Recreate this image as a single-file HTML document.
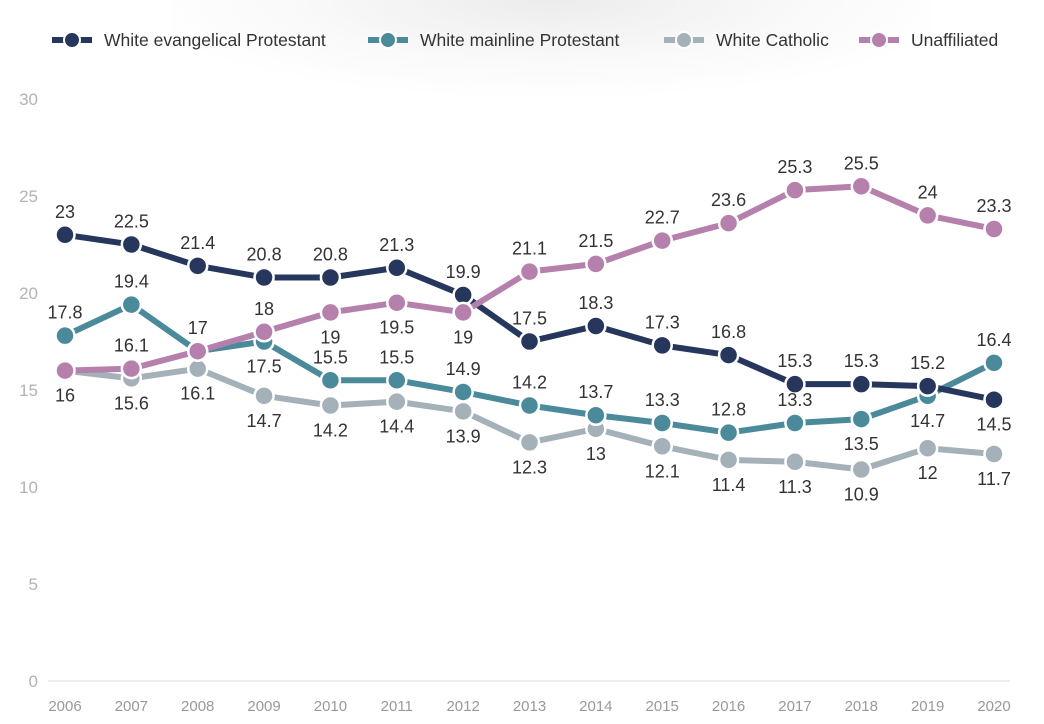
<!DOCTYPE html>
<html><head><meta charset="utf-8"><style>
html,body{margin:0;padding:0;background:#fff;}
svg{display:block;font-family:"Liberation Sans",sans-serif;}
</style></head><body>
<svg id="chart" width="1044" height="724">
<defs><radialGradient id="sh" cx="0.5" cy="0" r="0.55"><stop offset="0" stop-color="#ececec"/><stop offset="0.6" stop-color="#f9f9f9"/><stop offset="1" stop-color="#fff"/></radialGradient></defs>
<rect x="170" y="0" width="760" height="180" fill="url(#sh)"/>
<g id="legend"></g><g id="axes"></g><g id="series"></g><g id="labels"></g>
</svg>
<script>
const years=[2006,2007,2008,2009,2010,2011,2012,2013,2014,2015,2016,2017,2018,2019,2020];
const evangelical=[23,22.5,21.4,20.8,20.8,21.3,19.9,17.5,18.3,17.3,16.8,15.3,15.3,15.2,14.5];
const mainline=[17.8,19.4,17,17.5,15.5,15.5,14.9,14.2,13.7,13.3,12.8,13.3,13.5,14.7,16.4];
const catholic=[16,15.6,16.1,14.7,14.2,14.4,13.9,12.3,13,12.1,11.4,11.3,10.9,12,11.7];
const unaffiliated=[16,16.1,17,18,19,19.5,19,21.1,21.5,22.7,23.6,25.3,25.5,24,23.3];
const yTicks=[0,5,10,15,20,25,30];
const seriesNames=["White evangelical Protestant","White mainline Protestant","White Catholic","Unaffiliated"];
const evPos=[1,1,1,1,1,1,1,1,1,1,1,1,1,1,-1];
const mlPos=[1,1,1,-1,1,1,1,1,1,1,1,1,-1,-1,1];
const caPos=[-1,-1,-1,-1,-1,-1,-1,-1,-1,-1,-1,-1,-1,-1,-1];
const unPos=[0,1,0,1,-1,-1,-1,1,1,1,1,1,1,1,1];
const colors=["#26365c","#4b8a9b","#a4b1b8","#b680ad"];
const NS="http://www.w3.org/2000/svg";
const x=i=>65+i*(994-65)/14;
const y=v=>681-v*(681-99)/30;
function mk(tag,attrs,parent){const e=document.createElementNS(NS,tag);for(const k in attrs)e.setAttribute(k,attrs[k]);parent.appendChild(e);return e;}
const axes=document.getElementById('axes');
yTicks.forEach(t=>{const el=mk('text',{x:38,y:y(t)+6,'text-anchor':'end','font-size':17,fill:'#b3b3b3'},axes);el.textContent=t;

});
const base=mk('line',{x1:48,x2:1010,y1:681,y2:681,stroke:'#ddd','stroke-width':1},axes);


years.forEach((yr,i)=>{const el=mk('text',{x:x(i),y:711,'text-anchor':'middle','font-size':15,fill:'#999'},axes);el.textContent=yr;

});
const leg=document.getElementById('legend');
const legX=[52,368,664,859];
seriesNames.forEach((n,i)=>{const g=mk('g',{},leg);


mk('line',{x1:legX[i],x2:legX[i]+12,y1:40,y2:40,stroke:colors[i],'stroke-width':6},g);
mk('line',{x1:legX[i]+28,x2:legX[i]+40,y1:40,y2:40,stroke:colors[i],'stroke-width':6},g);
mk('circle',{cx:legX[i]+20,cy:40,r:8,fill:colors[i],stroke:'#fff','stroke-width':2},g);
const t=mk('text',{x:legX[i]+52,y:46,'font-size':17.5,fill:'#333'},g);t.textContent=n;});
const ser=document.getElementById('series'),lab=document.getElementById('labels');
const all=[catholic,mainline,evangelical,unaffiliated],allPos=[caPos,mlPos,evPos,unPos],cIdx=[2,1,0,3];
const keys=['catholic','mainline','evangelical','unaffiliated'];
all.forEach((d,s)=>{const c=colors[cIdx[s]];
const p=mk('polyline',{points:d.map((v,i)=>x(i)+','+y(v)).join(' '),fill:'none',stroke:c,'stroke-width':6,'stroke-linejoin':'round'},ser);


d.forEach((v,i)=>{const ci=mk('circle',{cx:x(i),cy:y(v),r:9.5,fill:c,stroke:'#fff','stroke-width':2.5},ser);


const ps=allPos[s][i];if(ps){const t=mk('text',{x:x(i),y:ps>0?y(v)-17:y(v)+31,'text-anchor':'middle','font-size':18,fill:'#333'},lab);t.textContent=v;

}});});
</script>
</body></html>
